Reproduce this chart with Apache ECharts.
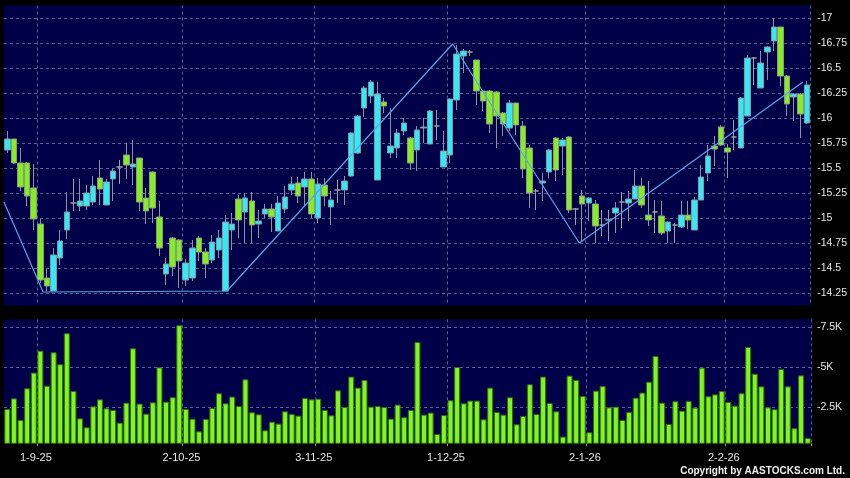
<!DOCTYPE html>
<html><head><meta charset="utf-8">
<script src="https://cdn.jsdelivr.net/npm/echarts@6/dist/echarts.min.js"></script>
<style>html,body{margin:0;padding:0;background:#000;}#c{width:850px;height:478px;}</style>
</head><body><div id="c"></div>
<script>
const dates = [
'25-8-25','26-8-25','27-8-25','28-8-25','29-8-25',
'1-9-25','2-9-25','3-9-25','4-9-25','5-9-25','8-9-25','9-9-25','10-9-25','11-9-25','12-9-25','15-9-25','16-9-25','17-9-25','18-9-25','19-9-25','22-9-25','23-9-25','24-9-25','25-9-25','26-9-25','29-9-25','30-9-25',
'2-10-25','3-10-25','6-10-25','8-10-25','9-10-25','10-10-25','13-10-25','14-10-25','15-10-25','16-10-25','17-10-25','20-10-25','21-10-25','22-10-25','23-10-25','24-10-25','27-10-25','28-10-25','30-10-25','31-10-25',
'3-11-25','4-11-25','5-11-25','6-11-25','7-11-25','10-11-25','11-11-25','12-11-25','13-11-25','14-11-25','17-11-25','18-11-25','19-11-25','20-11-25','21-11-25','24-11-25','25-11-25','26-11-25','27-11-25','28-11-25',
'1-12-25','2-12-25','3-12-25','4-12-25','5-12-25','8-12-25','9-12-25','10-12-25','11-12-25','12-12-25','15-12-25','16-12-25','17-12-25','18-12-25','19-12-25','22-12-25','23-12-25','24-12-25','29-12-25','30-12-25','31-12-25',
'2-1-26','5-1-26','6-1-26','7-1-26','8-1-26','9-1-26','12-1-26','13-1-26','14-1-26','15-1-26','16-1-26','19-1-26','20-1-26','21-1-26','22-1-26','23-1-26','26-1-26','27-1-26','28-1-26','29-1-26','30-1-26',
'2-2-26','3-2-26','4-2-26','5-2-26','6-2-26','9-2-26','10-2-26','11-2-26','12-2-26','13-2-26','16-2-26','20-2-26','23-2-26'
];
const opens = [15.68,15.79,15.55,15.55,15.30,14.94,14.40,14.27,14.60,14.88,
15.15,15.12,15.12,15.16,15.40,15.13,15.39,15.51,15.63,15.51,
15.60,15.20,15.46,15.01,14.44,14.80,14.78,14.38,14.40,14.80,
14.66,14.58,14.68,14.27,14.88,15.19,15.06,15.17,14.94,15.04,
15.09,14.87,15.09,15.28,15.35,15.31,15.39,15.00,15.33,15.11,
15.28,15.28,15.42,15.65,16.10,16.22,15.38,16.16,15.65,15.70,
15.87,15.80,15.68,15.90,15.74,15.92,15.51,15.63,16.18,16.62,
16.66,16.58,16.27,16.27,16.26,16.05,15.90,16.15,15.92,15.70,
15.27,15.35,15.46,15.80,15.72,15.81,15.09,15.22,15.15,15.14,
14.93,14.98,15.05,15.16,15.15,15.19,15.32,15.03,15.06,15.02,
14.87,14.93,14.91,15.03,14.88,15.18,15.45,15.72,15.91,15.70,
15.81,15.70,16.02,16.60,16.30,16.66,16.77,16.91,16.42,16.21,
16.24,15.95];
const closes = [15.79,15.55,15.31,15.22,14.99,14.38,14.32,14.63,14.77,15.06,
15.15,15.17,15.25,15.32,15.29,15.36,15.47,15.51,15.53,15.54,
15.16,15.07,15.10,14.70,14.54,14.51,14.57,14.55,14.70,14.66,
14.54,14.76,14.80,14.96,14.94,14.98,15.20,14.93,14.97,15.09,
15.01,15.15,15.21,15.34,15.22,15.39,15.04,15.34,15.22,15.18,
15.28,15.37,15.85,16.02,16.30,16.36,16.24,16.12,15.72,15.85,
15.95,15.55,15.88,15.91,16.07,15.92,15.67,16.19,16.64,16.67,
16.66,16.27,16.17,15.94,16.02,15.94,16.15,15.93,15.49,15.25,
15.27,15.37,15.68,15.48,15.78,15.08,15.09,15.14,15.20,14.92,
14.93,14.98,15.10,15.16,15.19,15.32,15.13,14.98,15.06,14.85,
14.96,14.93,15.03,14.98,15.18,15.41,15.62,15.69,15.73,15.66,
15.81,16.20,16.60,16.60,16.55,16.71,16.91,16.42,16.14,16.24,
16.04,16.33];
const lows = [15.65,15.54,15.27,15.12,14.88,14.35,14.27,14.27,14.53,14.79,
15.07,15.07,15.08,15.13,15.13,15.13,15.17,15.34,15.39,15.33,
15.07,14.94,14.95,14.62,14.33,14.42,14.30,14.32,14.37,14.57,
14.40,14.55,14.60,14.27,14.68,14.80,14.75,14.75,14.80,15.00,
14.86,14.87,15.05,15.23,15.15,15.12,15.00,14.95,15.12,14.93,
15.15,15.13,15.41,15.64,16.01,16.15,15.38,16.05,15.60,15.60,
15.83,15.48,15.47,15.75,15.74,15.78,15.51,15.55,16.08,16.45,
16.62,16.13,16.07,15.85,15.70,15.82,15.87,15.83,15.40,15.10,
15.08,15.17,15.40,15.37,15.43,15.05,14.93,14.77,14.97,14.75,
14.82,14.77,14.85,14.90,14.97,15.19,15.10,14.92,14.85,14.83,
14.75,14.75,14.90,14.89,14.88,15.18,15.37,15.52,15.72,15.40,
15.68,15.70,16.02,16.33,16.30,16.38,16.67,16.32,16.02,15.97,
15.80,15.94];
const highs = [15.87,15.79,15.70,15.56,15.54,14.99,14.49,14.70,14.88,15.26,
15.39,15.39,15.33,15.42,15.58,15.39,15.50,15.58,15.75,15.78,
15.60,15.30,15.47,15.17,14.60,14.81,14.79,14.59,14.78,14.82,
14.70,14.83,14.88,15.03,15.05,15.23,15.25,15.26,15.08,15.14,
15.14,15.22,15.32,15.41,15.41,15.46,15.46,15.40,15.40,15.27,
15.38,15.42,15.86,16.03,16.32,16.38,16.36,16.20,16.10,15.89,
16.00,15.81,15.92,16.00,16.08,16.08,15.87,16.20,16.73,16.69,
16.68,16.58,16.28,16.28,16.27,16.06,16.18,16.15,15.97,15.73,
15.29,15.45,15.69,15.81,15.80,15.82,15.10,15.28,15.21,15.18,
15.08,15.08,15.16,15.26,15.27,15.48,15.40,15.37,15.18,15.17,
14.97,14.95,15.17,15.17,15.21,15.53,15.73,15.82,15.93,15.74,
15.98,16.21,16.63,16.61,16.67,16.72,17.00,16.91,16.43,16.25,
16.25,16.37];
const volumes = [2400,3060,1710,3690,4670,6040,3850,5940,5190,7130,
3520,1810,1250,2560,3000,2440,2330,1540,2790,6190,
2730,2100,2810,5000,2850,3130,7630,2400,1790,1000,
1770,2460,3380,2750,3170,2580,4250,2190,2060,1060,
1600,1480,2250,2080,1980,3080,3000,3040,2330,2000,
3560,2520,4420,3730,4210,2540,2580,2520,1790,2670,
1880,2330,6580,2040,2170,830,2020,2940,5020,2750,
2920,2920,1750,3730,2210,2040,3130,1440,1960,3940,
2080,4420,2770,2250,670,4480,4210,3210,940,3540,
3830,2500,2540,1710,2210,3100,3420,4100,5710,2790,
1460,2880,2290,2900,2480,4980,3190,3310,3520,2830,
2600,3380,6270,4600,3810,2500,2380,4900,3810,1190,
4500,580];
const dateLabels = ['1-9-25','2-10-25','3-11-25','1-12-25','2-1-26','2-2-26'];
const priceTicks = [14.25,14.5,14.75,15,15.25,15.5,15.75,16,16.25,16.5,16.75,17];
const volumeTicks = [2500,5000,7500];
const zigzagX = [-0.5, 5.41, 33.23, 67.39, 86.55, 120.4];
const zigzagY = [15.16, 14.26, 14.27, 16.74, 14.75, 16.36];

const labelIdx = new Set(dateLabels.map(d => dates.indexOf(d)));
const gridColor = '#5e5e94';
const navy = '#000048';
const clear = 'rgba(0,0,0,0)';
const font = '"Liberation Sans", Arial, sans-serif';
const isTick = (arr, v) => arr.some(t => Math.abs(t - v) < 1e-6);

const chart = echarts.init(document.getElementById('c'), null, {renderer: 'canvas'});
chart.setOption({
  animation: false,
  backgroundColor: '#000',
  grid: [
    {left: 4, width: 807, top: 5.5, height: 300, show: true, backgroundColor: navy, borderWidth: 0},
    {left: 4, width: 807, top: 319.3, height: 124, show: true, backgroundColor: navy, borderWidth: 0}
  ],
  xAxis: [
    {type: 'category', gridIndex: 0, data: dates, boundaryGap: true,
     axisLine: {show: false}, axisTick: {show: false}, axisLabel: {show: false},
     splitLine: {show: true, interval: i => labelIdx.has(i), lineStyle: {color: gridColor, type: [3, 3], width: 1}}},
    {type: 'category', gridIndex: 1, data: dates, boundaryGap: true,
     axisLine: {show: false},
     axisTick: {show: true, alignWithLabel: false, interval: i => labelIdx.has(i), length: 3, lineStyle: {color: '#9a9a9a'}},
     axisLabel: {show: true, interval: i => labelIdx.has(i), color: '#e6e6e6', fontSize: 11, fontFamily: font, margin: 9, padding: [0, 9, 0, 0]},
     splitLine: {show: true, interval: i => labelIdx.has(i), lineStyle: {color: gridColor, type: [3, 3], width: 1}}},
    {type: 'value', gridIndex: 0, min: -0.5, max: 121.5, show: false}
  ],
  yAxis: [
    {type: 'value', gridIndex: 0, position: 'right', min: 14.125, max: 17.125, interval: 0.125,
     axisLine: {show: false}, axisTick: {show: false},
     axisLabel: {color: '#e6e6e6', fontSize: 10.5, fontFamily: font, margin: 7,
       formatter: v => isTick(priceTicks, v) ? '-' + (+v.toFixed(2)) : ''},
     splitLine: {show: true, showMinLine: true, showMaxLine: true, lineStyle: {color: [clear, gridColor], type: [3, 3], width: 1}}},
    {type: 'value', gridIndex: 1, position: 'right', min: 250, max: 8000, interval: 250,
     axisLine: {show: false}, axisTick: {show: false},
     axisLabel: {color: '#e6e6e6', fontSize: 10.5, fontFamily: font, margin: 6,
       formatter: v => isTick(volumeTicks, v) ? '-' + (v / 1000) + 'K' : ''},
     splitLine: {show: true, showMinLine: true, showMaxLine: true,
       lineStyle: {color: [clear, clear, clear, clear, clear, clear, clear, clear, clear, gridColor], type: [3, 3], width: 1}}}
  ],
  series: [
    {type: 'candlestick', xAxisIndex: 0, yAxisIndex: 0, barWidth: 6,
     data: opens.map((o, i) => [o, closes[i], lows[i], highs[i]]),
     itemStyle: {color: '#30eaf6', color0: '#84ee1e', borderColor: '#8496a0', borderColor0: '#8a9a8a', borderColorDoji: '#a0a0a0', borderWidth: 1}},
    {type: 'line', xAxisIndex: 2, yAxisIndex: 0, symbol: 'none', silent: true,
     data: zigzagX.map((x, i) => [x, zigzagY[i]]),
     lineStyle: {color: '#56a8e8', width: 1.2}},
    {type: 'bar', xAxisIndex: 1, yAxisIndex: 1, barWidth: 6, data: volumes,
     itemStyle: {color: '#80f51e', borderColor: '#2e6a10', borderWidth: 1}}
  ],
  graphic: [
    {type: 'text', right: 5, top: 466, style: {text: 'Copyright by AASTOCKS.com Ltd.', fill: '#f0f0f0', font: 'bold 10px ' + font}}
  ]
});
</script>
</body></html>
